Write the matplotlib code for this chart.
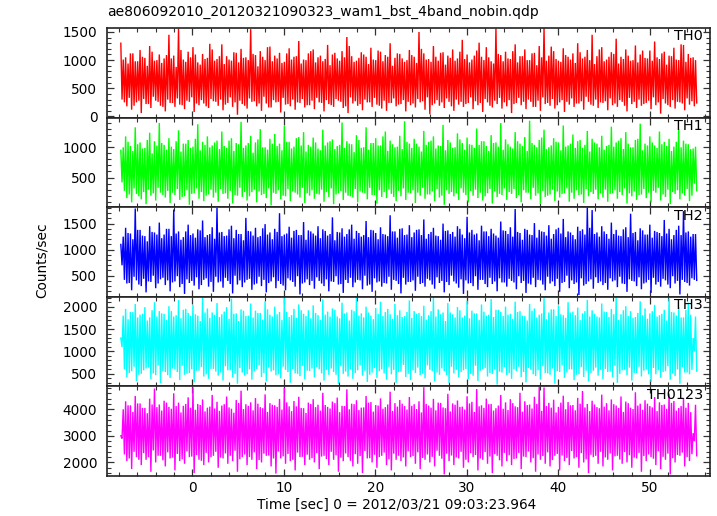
import numpy as np
import matplotlib
matplotlib.use("Agg")
import matplotlib.pyplot as plt
from matplotlib.ticker import MultipleLocator

title = "ae806092010_20120321090323_wam1_bst_4band_nobin.qdp"
xlabel = "Time [sec] 0 = 2012/03/21 09:03:23.964"
ylabel = "Counts/sec"
bands = ["TH0", "TH1", "TH2", "TH3", "TH0123"]
colors = ["#ff0000", "#00ff00", "#0000ff", "#00ffff", "#ff00ff"]
t_start, t_end = -7.8, 55.1

# ---- TH0 ----
th0_peaks = [1300, 1050, 1120, 980, 1180, 1040, 1250, 990, 1100, 1030, 1450, 1080, 1560, 1010, 1150, 1230, 960, 1110, 1040, 1190,
             1020, 1280, 1070, 990, 1130, 1200, 1050, 1550, 1090, 1160, 1000, 1240, 1080, 1130, 970, 1210, 1060, 1340, 1010, 1120,
             1190, 1050, 980, 1270, 1100, 1030, 1160, 1410, 1070, 990, 1140, 1060, 1220, 1000, 1150, 1090, 1300, 1040, 1110, 970,
             1180, 1060, 1500, 1120, 1020, 1250, 990, 1140, 1080, 1190, 1030, 1360, 1100, 1010, 1170, 1060, 1230, 980, 1560, 1090,
             1150, 1020, 1280, 1070, 1190, 1000, 1130, 1250, 1570, 1080, 1160, 990, 1210, 1060, 1120, 1300, 1030, 1180, 1450, 1070,
             1230, 1010, 1140, 1380, 1060, 1190, 990, 1260, 1100, 1040, 1170, 1330, 1020, 1150, 1080, 1220, 1000, 1270, 1110, 1050]
th0_troughs = [300, 180, 120, 250, 60, 220, 150, 280, 190, 90, 240, 170, 210, 130, 260, 80, 200, 230, 150, 270,
               190, 110, 240, 170, 30, 220, 140, 260, 180, 100, 230, 160, 250, 70, 210, 180, 120, 240, 160, 200,
               130, 250, 90, 220, 170, 280, 150, 60, 230, 190, 110, 250, 170, 210, 140, 100, 240, 180, 220, 90,
               200, 160, 250, 120, 40, 230, 190, 150, 260, 100, 210, 170, 240, 130, 200, 80, 250, 160, 220, 140,
               180, 60, 240, 200, 130, 260, 170, 100, 220, 190, 140, 250, 80, 210, 170, 230, 120, 260, 190, 150,
               240, 110, 200, 170, 260, 90, 220, 150, 190, 240, 130, 200, 50, 230, 170, 140, 250, 110, 210, 180]
th0_peaks2 = [1010, 940, 1120, 980, 1060, 900, 1150, 1000, 950, 1090, 1030, 880, 1180, 970, 1050, 1100, 920, 1020, 1290, 990,
              1070, 930, 1010, 1140, 960, 1040, 1000, 1110, 890, 1060, 1230, 980, 1030, 950, 1120, 1010, 1070, 940, 1000, 1160,
              960, 1080, 1020, 910, 1130, 990, 1050, 1250, 970, 1040, 1100, 930, 1010, 1170, 980, 1060, 900, 1120, 1030, 1000,
              1090, 950, 1200, 1010, 970, 1060, 1130, 920, 1040, 990, 1150, 1020, 960, 1080, 1310, 1000, 1050, 940, 1110, 980,
              1030, 1160, 960, 1070, 1000, 1120, 910, 1050, 990, 1240, 1020, 970, 1090, 1010, 950, 1140, 1060, 1000, 930, 1190,
              980, 1060, 1110, 940, 1020, 1080, 1000, 960, 1170, 1030, 990, 1050, 1120, 920, 1070, 1010, 1280, 970, 1040, 1000]
th0_troughs2 = [250, 330, 190, 280, 310, 220, 350, 260, 170, 300, 240, 320, 200, 280, 340, 230, 290, 180, 310, 260,
                300, 210, 340, 250, 280, 190, 320, 270, 230, 350, 160, 290, 260, 330, 220, 300, 250, 310, 200, 280,
                330, 240, 290, 200, 310, 260, 180, 340, 270, 220, 300, 250, 330, 190, 280, 240, 320, 210, 290, 260,
                230, 310, 270, 340, 200, 290, 250, 320, 180, 300, 260, 220, 340, 270, 240, 310, 190, 280, 330, 250,
                290, 220, 330, 260, 300, 170, 280, 340, 240, 310, 200, 290, 260, 320, 230, 270, 350, 210, 300, 250,
                270, 320, 230, 290, 190, 330, 260, 300, 220, 280, 340, 250, 310, 200, 290, 260, 230, 320, 270, 240]

# ---- TH1 ----
th1_peaks = [950, 1180, 1020, 1330, 1080, 990, 1240, 1100, 1400, 1040, 1150, 970, 1280, 1060, 1120, 1010, 1380, 1090, 1180, 1030,
             1110, 1260, 990, 1150, 1070, 1420, 1030, 1190, 1080, 1300, 1000, 1140, 1220, 1060, 1350, 1090, 1010, 1170, 1250, 1040,
             1160, 980, 1290, 1080, 1130, 1020, 1410, 1100, 1050, 1200, 990, 1330, 1070, 1150, 1030, 1260, 1110, 1000, 1190, 1430,
             1060, 1140, 1010, 1270, 1090, 1180, 1030, 1370, 1120, 990, 1230, 1070, 1160, 1040, 1310, 1100, 1020, 1200, 1080, 1400,
             1130, 1010, 1250, 1060, 1170, 1440, 1040, 1120, 1290, 1000, 1150, 1080, 1360, 1030, 1210, 1100, 990, 1270, 1140, 1060,
             1190, 1020, 1340, 1080, 1150, 1250, 1000, 1120, 1390, 1060, 1180, 1030, 1260, 1090, 1140, 1010, 1300, 1110, 1050, 980]
th1_troughs = [420, 160, 90, 230, 140, 60, 200, 120, 250, 170, 80, 210, 130, 190, 50, 240, 150, 110, 220, 170,
               100, 230, 150, 70, 200, 180, 120, 260, 90, 210, 160, 40, 230, 140, 190, 110, 250, 170, 80, 200,
               150, 220, 100, 180, 60, 240, 130, 200, 170, 90, 250, 140, 210, 70, 180, 160, 230, 110, 190, 130,
               240, 80, 200, 150, 220, 110, 170, 50, 230, 190, 130, 250, 90, 200, 160, 120, 240, 70, 180, 210,
               130, 230, 160, 90, 250, 140, 200, 60, 180, 220, 110, 170, 240, 100, 150, 210, 80, 190, 230, 140,
               170, 100, 240, 150, 210, 70, 190, 130, 220, 160, 90, 250, 120, 180, 60, 230, 140, 200, 110, 400]
th1_peaks2 = [1000, 1090, 940, 1050, 980, 1120, 900, 1030, 1070, 960, 1010, 1100, 930, 1060, 990, 1140, 950, 1040, 1000, 1080,
              970, 1020, 1110, 940, 1050, 990, 1070, 910, 1130, 1000, 960, 1060, 1020, 950, 1090, 980, 1150, 1030, 930, 1010,
              1080, 950, 1030, 1100, 970, 1040, 990, 1060, 920, 1120, 1000, 960, 1070, 1030, 1180, 940, 1050, 1010, 970, 1090,
              990, 1060, 930, 1040, 1110, 980, 1020, 950, 1080, 1000, 1130, 960, 1050, 990, 1040, 1100, 940, 1070, 1010, 960,
              1050, 980, 1100, 1020, 940, 1070, 1000, 1160, 970, 1030, 1090, 950, 1010, 1060, 990, 1120, 1040, 930, 1080, 1000,
              960, 1040, 1010, 1110, 970, 1060, 1000, 1140, 950, 1030, 1080, 990, 1050, 1020, 940, 1090, 1000, 1060, 970, 1010]
th1_troughs2 = [280, 220, 320, 190, 260, 300, 240, 330, 210, 280, 250, 310, 180, 290, 230, 320, 260, 200, 300, 250,
                310, 240, 280, 210, 330, 260, 190, 300, 270, 230, 320, 250, 290, 200, 310, 270, 220, 330, 240, 290,
                230, 300, 260, 320, 220, 280, 250, 190, 310, 270, 240, 330, 210, 290, 260, 300, 180, 280, 320, 250,
                290, 250, 330, 220, 270, 310, 200, 290, 260, 240, 320, 210, 280, 300, 250, 190, 310, 270, 230, 320,
                260, 310, 210, 290, 250, 330, 240, 280, 200, 300, 270, 230, 320, 250, 290, 220, 310, 260, 300, 240,
                300, 230, 290, 260, 320, 240, 270, 210, 310, 250, 280, 330, 220, 300, 260, 290, 240, 310, 200, 280]

# ---- TH2 ----
th2_peaks = [1100, 1420, 1310, 1790, 1380, 1260, 1450, 1330, 1520, 1290, 1400, 1770, 1350, 1240, 1480, 1310, 1390, 1560, 1280, 1430,
             1800, 1340, 1270, 1460, 1380, 1300, 1610, 1350, 1420, 1260, 1490, 1330, 1400, 1700, 1290, 1440, 1360, 1280, 1530, 1370,
             1310, 1450, 1390, 1270, 1620, 1340, 1410, 1300, 1480, 1360, 1250, 1550, 1380, 1320, 1430, 1290, 1660, 1350, 1400, 1280,
             1470, 1330, 1390, 1580, 1300, 1420, 1260, 1500, 1370, 1340, 1450, 1290, 1630, 1380, 1310, 1460, 1350, 1400, 1270, 1540,
             1360, 1430, 1780, 1320, 1400, 1290, 1510, 1380, 1340, 1470, 1300, 1420, 1590, 1350, 1280, 1440, 1390, 1810, 1760, 1330,
             1450, 1300, 1520, 1380, 1260, 1430, 1690, 1340, 1410, 1290, 1480, 1360, 1320, 1570, 1400, 1280, 1460, 1740, 1350, 1300]
th2_troughs = [700, 350, 220, 410, 300, 180, 380, 260, 430, 320, 200, 390, 280, 150, 360, 310, 240, 420, 290, 190,
               370, 270, 400, 160, 330, 280, 420, 230, 350, 300, 180, 390, 260, 340, 220, 410, 290, 140, 370, 320,
               250, 400, 300, 200, 380, 330, 170, 360, 280, 420, 240, 310, 190, 370, 290, 350, 230, 400, 160, 330,
               380, 210, 340, 290, 410, 250, 360, 180, 320, 390, 270, 150, 350, 300, 230, 420, 280, 340, 200, 370,
               290, 400, 240, 360, 170, 330, 280, 410, 220, 350, 300, 190, 380, 260, 340, 130, 310, 390, 250, 360,
               320, 230, 390, 280, 350, 190, 400, 300, 240, 370, 170, 330, 290, 410, 260, 350, 140, 380, 310, 420]
th2_peaks2 = [1250, 1320, 1200, 1380, 1270, 1160, 1340, 1290, 1220, 1400, 1260, 1310, 1190, 1350, 1280, 1230, 1370, 1240, 1300, 1210,
              1330, 1260, 1390, 1220, 1300, 1180, 1360, 1270, 1240, 1410, 1290, 1200, 1340, 1260, 1310, 1230, 1380, 1280, 1190, 1350,
              1270, 1220, 1360, 1300, 1180, 1330, 1250, 1390, 1210, 1320, 1280, 1240, 1370, 1200, 1300, 1260, 1350, 1230, 1410, 1290,
              1240, 1380, 1280, 1210, 1340, 1270, 1190, 1360, 1300, 1250, 1400, 1220, 1330, 1290, 1180, 1350, 1260, 1310, 1230, 1370,
              1300, 1250, 1340, 1190, 1380, 1280, 1230, 1350, 1270, 1210, 1390, 1310, 1240, 1330, 1200, 1360, 1290, 1420, 1300, 1250,
              1350, 1210, 1300, 1270, 1390, 1240, 1320, 1180, 1370, 1290, 1230, 1340, 1260, 1310, 1200, 1380, 1280, 1330, 1250, 1300]
th2_troughs2 = [420, 360, 480, 330, 440, 390, 500, 350, 460, 410, 370, 490, 340, 430, 400, 470, 320, 450, 380, 480,
                390, 460, 340, 500, 410, 370, 440, 330, 480, 420, 360, 470, 400, 310, 450, 380, 490, 350, 430, 400,
                470, 350, 430, 390, 490, 340, 420, 460, 370, 410, 500, 330, 450, 390, 360, 480, 420, 340, 460, 380,
                410, 480, 360, 440, 330, 470, 400, 380, 500, 350, 430, 410, 360, 490, 420, 340, 460, 390, 450, 370,
                440, 370, 490, 400, 350, 460, 420, 330, 480, 390, 440, 360, 500, 410, 370, 450, 340, 430, 470, 390,
                360, 450, 410, 480, 340, 430, 390, 470, 350, 420, 460, 380, 440, 330, 490, 400, 420, 360, 450, 410]

# ---- TH3 ----
th3_peaks = [1300, 1950, 1880, 2060, 1820, 1990, 1760, 2100, 1900, 1840, 2010, 1780, 2150, 1930, 1860, 2040, 1800, 2200, 1960, 1870,
             2080, 1830, 1990, 2180, 1850, 1940, 1790, 2070, 1910, 1860, 2120, 1820, 2000, 1880, 2190, 1770, 1950, 2050, 1840, 1920,
             2030, 1810, 2160, 1890, 1960, 1780, 2090, 1870, 1930, 2210, 1850, 2000, 1800, 1970, 2110, 1880, 1830, 2060, 1920, 1790,
             2140, 1900, 1860, 2020, 1810, 2200, 1940, 1870, 2080, 1830, 1990, 1760, 2130, 1910, 1850, 2050, 1800, 2170, 1930, 1880,
             2000, 1840, 2110, 1900, 1790, 2060, 1960, 1820, 2190, 1870, 1940, 2030, 1810, 2100, 1890, 1980, 1850, 2150, 1920, 1780,
             2070, 1880, 1950, 2200, 1830, 2010, 1900, 1770, 2120, 1960, 1850, 2040, 1810, 1930, 2180, 1870, 1990, 1760, 2090, 1300]
th3_troughs = [1100, 420, 560, 340, 500, 620, 380, 470, 290, 540, 410, 600, 360, 480, 520, 310, 570, 440, 390, 610,
               460, 350, 580, 420, 280, 530, 490, 370, 610, 430, 330, 550, 470, 400, 590, 300, 510, 450, 380, 560,
               420, 600, 350, 480, 540, 270, 500, 440, 390, 580, 460, 320, 530, 410, 600, 370, 490, 300, 550, 430,
               360, 520, 470, 400, 590, 330, 480, 560, 290, 510, 420, 580, 380, 460, 340, 610, 440, 500, 260, 530,
               470, 390, 560, 430, 310, 590, 450, 370, 520, 480, 280, 540, 410, 600, 360, 490, 430, 330, 570, 460,
               380, 540, 420, 300, 580, 470, 350, 520, 440, 600, 320, 490, 410, 560, 370, 450, 280, 530, 490, 1000]
th3_peaks2 = [1800, 1720, 1880, 1760, 1840, 1690, 1920, 1780, 1850, 1700, 1900, 1810, 1740, 1950, 1790, 1830, 1680, 1870, 1750, 1820,
              1770, 1890, 1730, 1840, 1680, 1910, 1800, 1760, 1860, 1710, 1940, 1780, 1830, 1700, 1880, 1810, 1750, 1920, 1790, 1740,
              1860, 1700, 1820, 1780, 1930, 1740, 1850, 1690, 1900, 1800, 1760, 1870, 1720, 1840, 1790, 1950, 1730, 1810, 1770, 1880,
              1750, 1840, 1790, 1710, 1900, 1780, 1830, 1680, 1870, 1760, 1920, 1800, 1740, 1850, 1700, 1890, 1820, 1770, 1930, 1790,
              1820, 1730, 1880, 1800, 1690, 1910, 1760, 1850, 1720, 1940, 1790, 1830, 1750, 1870, 1810, 1700, 1900, 1780, 1840, 1760,
              1890, 1770, 1830, 1700, 1920, 1790, 1750, 1860, 1810, 1730, 1900, 1780, 1840, 1690, 1880, 1800, 1760, 1930, 1820, 1780]
th3_troughs2 = [600, 520, 660, 480, 580, 640, 510, 690, 560, 470, 620, 540, 680, 500, 600, 570, 650, 490, 610, 550,
                530, 670, 580, 500, 630, 460, 600, 560, 690, 520, 640, 580, 490, 660, 540, 610, 500, 680, 570, 620,
                650, 510, 590, 620, 480, 670, 550, 600, 520, 690, 570, 480, 630, 560, 510, 660, 590, 540, 700, 500,
                580, 640, 500, 690, 560, 530, 620, 470, 660, 590, 540, 610, 500, 680, 570, 630, 520, 600, 550, 650,
                520, 600, 660, 540, 630, 490, 580, 670, 510, 620, 560, 690, 530, 600, 480, 650, 570, 520, 640, 590,
                610, 550, 680, 500, 590, 640, 520, 660, 570, 490, 630, 580, 540, 670, 510, 600, 650, 530, 590, 560]

# ---- TH0123 ----
th0123_peaks = [3000, 4300, 4150, 4500, 4220, 4050, 4400, 4780, 4180, 4320, 4090, 4600, 4250, 4130, 4450, 4820, 4200, 4370, 4060, 4540,
                4280, 4140, 4480, 4020, 4350, 4700, 4190, 4260, 4420, 4080, 4560, 4230, 4150, 4390, 4800, 4110, 4310, 4470, 4040, 4250,
                4380, 4170, 4620, 4090, 4290, 4440, 4130, 4750, 4210, 4340, 4060, 4500, 4270, 4160, 4410, 4080, 4660, 4230, 4350, 4120,
                4460, 4190, 4300, 4830, 4140, 4390, 4250, 4070, 4580, 4220, 4330, 4100, 4490, 4280, 4760, 4150, 4400, 4200, 4040, 4540,
                4260, 4380, 4110, 4620, 4300, 4180, 4470, 4850, 4820, 4240, 4360, 4090, 4510, 4270, 4160, 4430, 4690, 4200, 4320, 4080,
                4550, 4230, 4370, 4140, 4480, 4290, 4060, 4640, 4210, 4340, 4120, 4460, 4260, 4180, 4590, 4310, 4050, 4420, 4240, 3100]
th0123_troughs = [2900, 2050, 1750, 2200, 1900, 2100, 1650, 2000, 2250, 1850, 2150, 1700, 2050, 1950, 2200, 1600, 2100, 1900, 2000, 2250,
                  1800, 2150, 1950, 2050, 1650, 2200, 1900, 2100, 1750, 2000, 2250, 1850, 1580, 2150, 1950, 2050, 1700, 2200, 1900, 2100,
                  2000, 1750, 2250, 1900, 2100, 1650, 2050, 2200, 1850, 1950, 1600, 2150, 2000, 1800, 2250, 1900, 1700, 2100, 2050, 1850,
                  2200, 1950, 1750, 2100, 2000, 1850, 2250, 1550, 2050, 1900, 2150, 1800, 2000, 2200, 1700, 2100, 1950, 1600, 2250, 1850,
                  2050, 1900, 2150, 1750, 2200, 2000, 1650, 2100, 1950, 1850, 2250, 1700, 2050, 1900, 2150, 1800, 2000, 1600, 2200, 1950,
                  1850, 2100, 1700, 2250, 1950, 2000, 1800, 2150, 1650, 2050, 2200, 1900, 1750, 2100, 1550, 2000, 2250, 1850, 2050, 2800]
th0123_peaks2 = [4000, 4150, 3900, 4220, 4050, 3850, 4180, 4080, 3950, 4250, 4020, 4120, 3880, 4200, 4060, 3980, 4160, 3920, 4100, 4030,
                 3940, 4190, 4070, 3870, 4240, 4010, 4130, 3960, 4210, 4040, 3900, 4170, 4090, 3990, 4260, 3930, 4110, 4050, 3860, 4200,
                 4080, 3950, 4160, 4030, 4230, 3890, 4120, 4000, 4190, 3970, 4070, 4250, 3910, 4140, 4020, 4180, 3940, 4100, 4210, 3990,
                 4130, 4010, 3880, 4200, 4060, 3960, 4240, 4040, 3920, 4170, 4090, 3990, 4220, 3900, 4110, 4050, 4190, 3950, 4140, 4020,
                 3970, 4230, 4080, 3910, 4160, 4030, 4200, 3940, 4120, 4060, 3880, 4250, 4000, 4150, 3960, 4210, 4070, 3930, 4180, 4040,
                 4100, 3960, 4190, 4050, 3900, 4230, 4010, 4140, 3980, 4210, 4070, 3930, 4160, 4020, 4240, 3950, 4120, 4060, 3890, 4170]
th0123_troughs2 = [2300, 2150, 2400, 2100, 2350, 2200, 2450, 2250, 2080, 2380, 2180, 2320, 2120, 2420, 2220, 2280, 2060, 2360, 2200, 2400,
                   2180, 2340, 2250, 2440, 2120, 2300, 2200, 2380, 2090, 2330, 2260, 2150, 2410, 2230, 2320, 2100, 2370, 2210, 2290, 2160,
                   2350, 2220, 2130, 2400, 2270, 2180, 2340, 2060, 2310, 2240, 2430, 2160, 2290, 2200, 2370, 2120, 2330, 2250, 2190, 2420,
                   2240, 2380, 2170, 2300, 2210, 2440, 2140, 2330, 2260, 2190, 2400, 2100, 2350, 2280, 2150, 2390, 2220, 2310, 2080, 2360,
                   2270, 2130, 2360, 2220, 2410, 2160, 2300, 2240, 2380, 2090, 2320, 2260, 2170, 2430, 2200, 2350, 2120, 2290, 2250, 2400,
                   2190, 2340, 2230, 2110, 2390, 2270, 2180, 2360, 2240, 2300, 2140, 2420, 2210, 2330, 2160, 2280, 2370, 2200, 2310, 2250]

series = [
    (th0_peaks, th0_troughs, th0_peaks2, th0_troughs2),
    (th1_peaks, th1_troughs, th1_peaks2, th1_troughs2),
    (th2_peaks, th2_troughs, th2_peaks2, th2_troughs2),
    (th3_peaks, th3_troughs, th3_peaks2, th3_troughs2),
    (th0123_peaks, th0123_troughs, th0123_peaks2, th0123_troughs2),
]
ylims = [(-20, 1570), (10, 1490), (95, 1815), (220, 2220), (1490, 4860)]
major = [500, 500, 500, 500, 1000]
minor = [100, 100, 100, 100, 200]

plt.rcParams["font.family"] = ["DejaVu Sans"]
fig = plt.figure(figsize=(7.17, 5.16), dpi=100)
gs = fig.add_gridspec(5, 1, left=107/717, right=710/717, top=1-28/516, bottom=1-476/516, hspace=0)

for k in range(5):
    ax = fig.add_subplot(gs[k])
    cols = np.array(series[k], float)          # shape (4, n)
    vals = cols.T.reshape(-1)                  # p, t, p2, t2, p, t, ...
    t = np.linspace(t_start, t_end, len(vals))
    ax.plot(t, vals, color=colors[k], lw=1.0, solid_joinstyle="bevel")
    ax.set_xlim(-9.31, 56.55)
    ax.set_ylim(*ylims[k])
    ax.xaxis.set_major_locator(MultipleLocator(10))
    ax.xaxis.set_minor_locator(MultipleLocator(2))
    ax.yaxis.set_major_locator(MultipleLocator(major[k]))
    ax.yaxis.set_minor_locator(MultipleLocator(minor[k]))
    ax.tick_params(which="both", direction="in", top=True, right=True, labelsize=9.8, color="#333333")
    ax.tick_params(which="major", length=5, width=0.9)
    ax.tick_params(which="minor", length=2.8, width=0.8)
    ax.tick_params(axis="x", which="major", pad=3.5)
    ax.tick_params(axis="y", which="major", pad=7)
    for s in ax.spines.values():
        s.set_linewidth(1.2)
        s.set_color("#222222")
    if k < 4:
        ax.tick_params(labelbottom=False)
    ax.text(0.988, 0.985, bands[k], transform=ax.transAxes, ha="right", va="top", fontsize=10.4)

fig.text(107/717, 1-12/516, title, ha="left", va="center", fontsize=10)
fig.text(397/717, 1-505/516, xlabel, ha="center", va="center", fontsize=9.8)
fig.text(42/717, 1-260/516, ylabel, ha="center", va="center", rotation=90, fontsize=9.9)

fig.savefig("out.png", dpi=100)
